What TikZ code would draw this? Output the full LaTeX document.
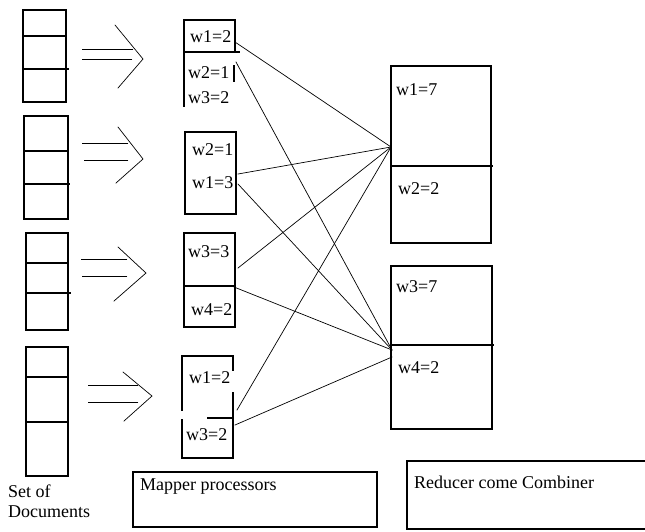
\documentclass[tikz,border=0pt]{standalone}
\usepackage{fontspec}
\setmainfont{Liberation Serif}
\tikzset{
  box/.style={line width=1.2pt},
  link/.style={line width=0.7pt},
  lbl/.style={inner sep=0pt, anchor=base west, font=\fontsize{18}{21}\selectfont}
}
\begin{document}
\begin{tikzpicture}[x=1pt, y=-1pt, line cap=rect]
  \useasboundingbox (0,0) rectangle (645,531);
  % set of documents
  \draw[box] (23,10) rectangle (66,102);
  \draw[box] (23,36) -- (66,36) (23,69) -- (68,69);
  \draw[box] (24,116) rectangle (68,219);
  \draw[box] (24,151) -- (68,151) (24,184) -- (69,184);
  \draw[box] (26,233) rectangle (68,330);
  \draw[box] (26,263) -- (68,263) (26,293) -- (70,293);
  \draw[box] (26,347) rectangle (68,476);
  \draw[box] (26,377) -- (68,377) (26,422) -- (68,422);
  % arrows
  \draw[link] (82,49) -- (133,49) (82,59) -- (132,59);
  \draw[link] (115,25) -- (143,59) -- (118,88);
  \draw[link] (82,143) -- (128,143) (84,160) -- (128,160);
  \draw[link] (118,127) -- (143,159) -- (116,183);
  \draw[link] (81,259) -- (127,259) (82,276) -- (127,276);
  \draw[link] (118,247) -- (146,273) -- (114,301);
  \draw[link] (88,385) -- (138,385) (88,402) -- (138,402);
  \draw[link] (123,372) -- (152,396) -- (124,421);
  % mapper boxes
  \draw[box] (184,106) -- (184,20) -- (235,20) -- (235,52);
  \draw[box] (184,52) -- (239,52);
  \draw[box] (234,66) -- (234,81);
  \draw[box] (185,132) rectangle (236,214);
  \draw[box] (184,233) rectangle (235,327);
  \draw[box] (184,286) -- (235,286);
  \draw[box] (182,356) -- (182,410) (182,420) -- (182,458) -- (233,458) -- (233,393);
  \draw[box] (182,356) -- (233,356) -- (233,370);
  \draw[box] (208,418) -- (233,418);
  \node[lbl] (m1a) at (190,42) {w1=2};
  \node[lbl] (m1b) at (188,78) {w2=1};
  \node[lbl] (m1c) at (188,103) {w3=2};
  \node[lbl] (m2a) at (192,155) {w2=1};
  \node[lbl] (m2b) at (192,188) {w1=3};
  \node[lbl] (m3a) at (188,257) {w3=3};
  \node[lbl] (m3b) at (191,315) {w4=2};
  \node[lbl] (m4a) at (189,383) {w1=2};
  \node[lbl] (m4b) at (186,440) {w3=2};
  % reducer boxes
  \draw[box] (391,66) rectangle (491,243);
  \draw[box] (391,166) -- (492,166);
  \draw[box] (391,266) rectangle (492,429);
  \draw[box] (391,345) -- (493,345);
  \node[lbl] (r1a) at (396,95) {w1=7};
  \node[lbl] (r1b) at (398,194) {w2=2};
  \node[lbl] (r2a) at (396,292) {w3=7};
  \node[lbl] (r2b) at (398,373) {w4=2};
  % connector ends
  \coordinate (o1a) at (235,42);
  \coordinate (o1b) at (236,62);
  \coordinate (o2a) at (238,174);
  \coordinate (o2b) at (238,184);
  \coordinate (o3a) at (238,268);
  \coordinate (o3b) at (234,287);
  \coordinate (o4a) at (237,410);
  \coordinate (o4b) at (235,425);
  \coordinate (in1) at (391,147);
  \coordinate (in2) at (392,350);
  \coordinate (in2b) at (392,357);
  \draw[link] (o1a) -- (in1);
  \draw[link] (o2a) -- (in1);
  \draw[link] (o3a) -- (in1);
  \draw[link] (o4a) -- (in1);
  \draw[link] (o1b) -- (in2);
  \draw[link] (o2b) -- (in2);
  \draw[link] (o3b) -- (in2);
  \draw[link] (o4b) -- (in2b);
  % captions
  \node[lbl] (docs1) at (8,497) {Set of};
  \node[lbl] (docs2) at (8,517) {Documents};
  \draw[box] (133,472) rectangle (377,527);
  \node[lbl] (mapcap) at (140,490) {Mapper processors};
  \draw[box] (646,461) -- (407,461) -- (407,529) -- (646,529);
  \node[lbl] (redcap) at (414,488) {Reducer come Combiner};
\end{tikzpicture}
\end{document}
